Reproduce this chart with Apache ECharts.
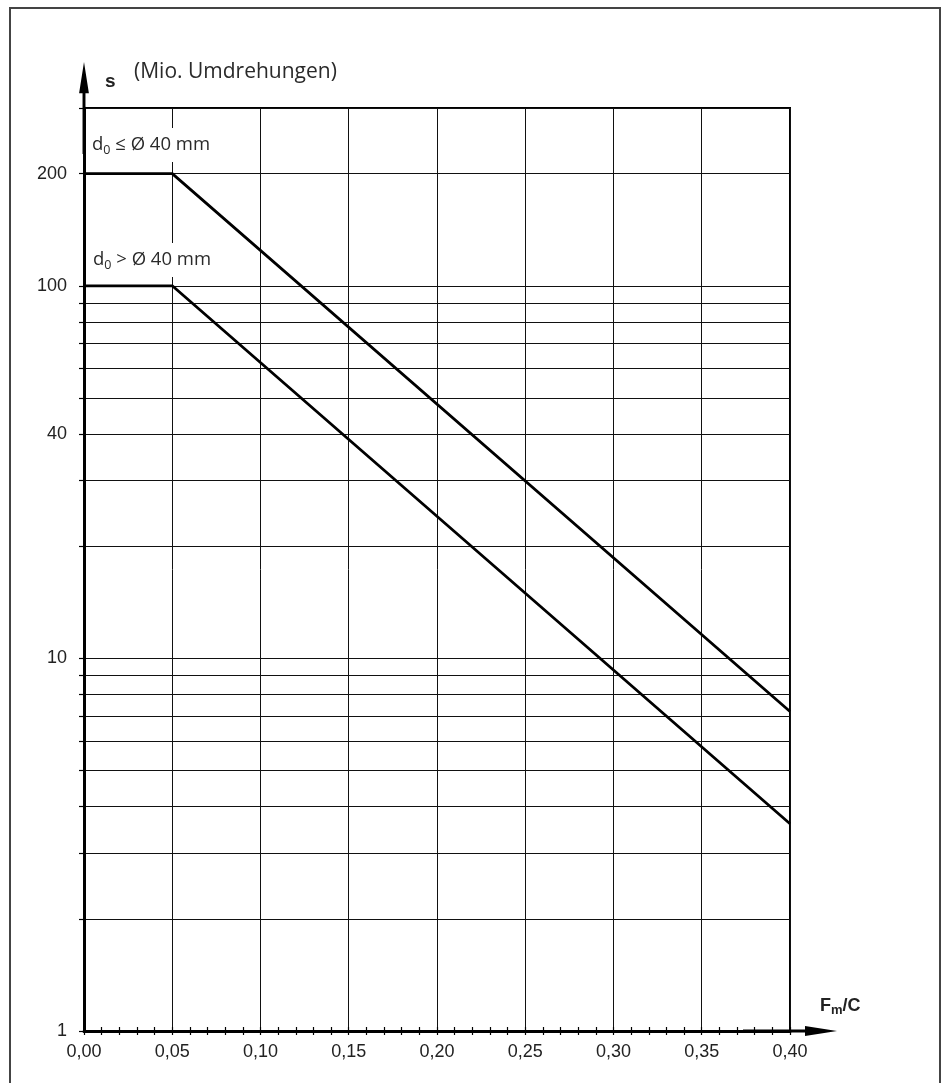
<!DOCTYPE html>
<html>
<head>
<meta charset="utf-8">
<script src="https://cdn.jsdelivr.net/npm/echarts@6/dist/echarts.min.js"></script>
<style>
  html, body { margin: 0; padding: 0; background: #fff; }
  #chart { width: 944px; height: 1083px; }
</style>
</head>
<body>
<div id="chart"></div>
<script>
// Load ratio Fm/C (x) and nominal life s in million revolutions (y, log)
const loadRatio = [0.00, 0.05, 0.40];
const lifeSmallDia = [200, 200, 7.2];   // d0 <= 40 mm
const lifeLargeDia = [100, 100, 3.6];   // d0 > 40 mm

// Axis ticks and labels
const xTickLabels = ['0,00', '0,05', '0,10', '0,15', '0,20', '0,25', '0,30', '0,35', '0,40'];
const yLabelValues = [1, 10, 40, 100, 200];
const yTickValues = [1, 2, 3, 4, 5, 6, 7, 8, 9, 10, 20, 30, 40, 50, 60, 70, 80, 90, 100, 200, 300];

const toPairs = (xs, ys) => xs.map((x, i) => [x, ys[i]]);

// Axis line with arrow head: shaft plus head, centred on the axis end
const arrowPath = 'path://M5 0L10 32L6.5 32L6.5 94L3.5 94L3.5 32L0 32Z';

const chart = echarts.init(document.getElementById('chart'));

chart.setOption({
  animation: false,
  backgroundColor: '#fff',
  grid: {
    left: 84, right: 154, top: 108, bottom: 52,
    show: true, borderColor: '#000', borderWidth: 2, backgroundColor: 'transparent'
  },
  xAxis: [{
    type: 'value', min: 0, max: 0.4, interval: 0.05, position: 'bottom',
    axisLine: { show: true, symbol: ['none', arrowPath], symbolSize: [10, 94],
      lineStyle: { color: '#000', width: 3 } },
    axisTick: { show: true, length: 4, lineStyle: { color: '#000', width: 1.2 } },
    minorTick: { show: true, splitNumber: 5, length: 4, lineStyle: { color: '#000', width: 1.2 } },
    axisLabel: {
      margin: 12, color: '#222', fontFamily: 'Liberation Sans', fontSize: 18,
      formatter: v => xTickLabels[Math.round(v / 0.05)]
    },
    splitLine: { show: true, lineStyle: { color: '#111', width: 1 } }
  }, {
    type: 'value', min: 0, max: 0.4, interval: 0.05, position: 'bottom',
    axisLine: { show: false },
    axisTick: { show: true, inside: true, length: 4, lineStyle: { color: '#000', width: 1.2 } },
    minorTick: { show: true, splitNumber: 5, length: 4, lineStyle: { color: '#000', width: 1.2 } },
    axisLabel: { show: false },
    splitLine: { show: false }
  }],
  yAxis: {
    type: 'log', logBase: 10, min: 1, max: 300,
    axisLine: { show: true, symbol: ['none', arrowPath], symbolSize: [11, 92],
      lineStyle: { color: '#000', width: 3 } },
    axisTick: { show: true, length: 5, customValues: yTickValues,
      lineStyle: { color: '#000', width: 1.2 } },
    axisLabel: {
      margin: 17, color: '#222', fontFamily: 'Liberation Sans', fontSize: 18,
      customValues: yLabelValues
    },
    splitLine: { show: true, lineStyle: { color: '#111', width: 1 } }
  },
  series: [{
    type: 'line', name: 'd0 ≤ Ø 40 mm', data: toPairs(loadRatio, lifeSmallDia),
    symbol: 'none', lineStyle: { color: '#000', width: 2.8 }, z: 5
  }, {
    type: 'line', name: 'd0 > Ø 40 mm', data: toPairs(loadRatio, lifeLargeDia),
    symbol: 'none', lineStyle: { color: '#000', width: 2.8 }, z: 5
  }],
  graphic: [
    { type: 'rect', z: 0, silent: true,
      shape: { x: 10, y: 8, width: 930, height: 1100 },
      style: { fill: 'none', stroke: '#444', lineWidth: 2 } },
    { type: 'text', z: 20, silent: true, x: 105, y: 82,
      style: { text: 's', font: 'bold 19px "Liberation Sans"', fill: '#222', verticalAlign: 'middle' } },
    { type: 'text', z: 20, silent: true, x: 134, y: 72,
      style: { text: '(Mio. Umdrehungen)', font: '21px "Open Sans"', fill: '#2a2a2a', verticalAlign: 'middle' } },
    { type: 'text', z: 20, silent: true, x: 88, y: 145,
      style: {
        text: '{a|d}{b|0}{a| ≤ Ø 40 mm}', verticalAlign: 'middle',
        backgroundColor: '#fff', padding: [5, 4, 5, 4],
        rich: {
          a: { fontFamily: 'Open Sans', fontSize: 18.5, fill: '#2a2a2a', lineHeight: 24 },
          b: { fontFamily: 'Open Sans', fontSize: 12.5, fill: '#2a2a2a', lineHeight: 14, verticalAlign: 'bottom' }
        }
      } },
    { type: 'text', z: 20, silent: true, x: 89, y: 260,
      style: {
        text: '{a|d}{b|0}{a| > Ø 40 mm}', verticalAlign: 'middle',
        backgroundColor: '#fff', padding: [5, 4, 5, 4],
        rich: {
          a: { fontFamily: 'Open Sans', fontSize: 18.5, fill: '#2a2a2a', lineHeight: 24 },
          b: { fontFamily: 'Open Sans', fontSize: 12.5, fill: '#2a2a2a', lineHeight: 14, verticalAlign: 'bottom' }
        }
      } },
    { type: 'text', z: 20, silent: true, x: 820, y: 1006,
      style: {
        text: '{a|F}{b|m}{a|/C}', verticalAlign: 'middle',
        rich: {
          a: { fontFamily: 'Liberation Sans', fontWeight: 'bold', fontSize: 18, fill: '#222', lineHeight: 22 },
          b: { fontFamily: 'Liberation Sans', fontWeight: 'bold', fontSize: 13, fill: '#222', lineHeight: 12, verticalAlign: 'bottom' }
        }
      } }
  ]
});
</script>
</body>
</html>
